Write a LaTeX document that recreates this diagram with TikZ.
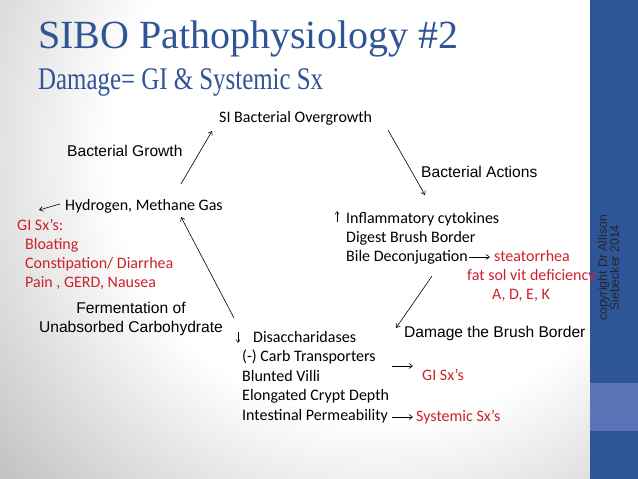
\documentclass[tikz,border=0pt]{standalone}
\usepackage{fontspec}
\setmainfont{Carlito}
\newfontfamily\arialf{Liberation Sans}
\newfontfamily\titlef{Liberation Serif}
\usetikzlibrary{arrows.meta}
\definecolor{titleblue}{HTML}{2F5597}
\definecolor{sidebar}{HTML}{2E5597}
\definecolor{bandblue}{HTML}{5B73B7}
\definecolor{sxred}{HTML}{CC2229}
\pgfdeclareradialshading{bgshade}{\pgfpoint{0bp}{0bp}}{color(0bp)=(white); color(12bp)=(white); color(25bp)=(black!30); color(50bp)=(black!30)}
\begin{document}
\begin{tikzpicture}[x=1pt,y=-1pt,
  cal/.style={inner sep=0pt, anchor=base west, font=\fontsize{16}{19}\selectfont},
  redtxt/.style={cal, text=sxred},
  ari/.style={inner sep=0pt, anchor=base west, font=\arialf\fontsize{15.6}{18}\selectfont},
  conn/.style={draw, line width=0.6pt, -{Straight Barb[length=3.5pt,width=5pt]}},
  smallarr/.style={draw, line width=0.5pt, -{Straight Barb[length=3pt,width=4pt]}}]
\useasboundingbox (0,0) rectangle (638,479);
% background
\begin{scope}
\clip (0,0) rectangle (590,479);
\fill[white] (0,0) rectangle (590,479);
\shade[shading=bgshade] (380,150) circle (560);
\end{scope}
\fill[sidebar] (590,0) rectangle (638,479);
\fill[bandblue] (590,383) rectangle (638,431);
% title
\node[inner sep=0pt, anchor=base west, text=titleblue, font=\titlef\fontsize{40}{44}\selectfont] (title) at (38,48) {SIBO Pathophysiology \#2};
\node[inner sep=0pt, anchor=base west, text=titleblue, xscale=0.79, font=\titlef\fontsize{31.5}{34}\selectfont] (subtitle) at (38,89) {Damage= GI \& Systemic Sx};
% top
\node[cal] (si) at (219,122) {SI Bacterial Overgrowth};
\node[ari] (bg) at (67,156) {Bacterial Growth};
\node[ari] (ba) at (421,177) {Bacterial Actions};
% left
\node[cal] (hyd) at (65,210) {Hydrogen, Methane Gas};
\node[redtxt] (gisx) at (17,230) {GI Sx’s:};
\node[redtxt] (bloat) at (25,249) {Bloating};
\node[redtxt] (const) at (25,268) {Constipation/ Diarrhea};
\node[redtxt] (pain) at (25,287) {Pain , GERD, Nausea};
\node[ari, anchor=base] (ferm1) at (131,313) {Fermentation of};
\node[ari, anchor=base] (ferm2) at (131,332) {Unabsorbed Carbohydrate};
% right
\node[cal] (infl) at (346,223) {Inflammatory cytokines};
\node[cal] (dig) at (346,242) {Digest Brush Border};
\node[cal] (bile) at (346,261) {Bile Deconjugation};
\node[redtxt] (steat) at (494,261) {steatorrhea};
\node[redtxt] (fat) at (467,280) {fat sol vit deficiency};
\node[redtxt] (adek) at (492,299) {A, D, E, K};
\node[ari] (dmg) at (404,337) {Damage the Brush Border};
% bottom
\node[cal] (disa) at (253,342) {Disaccharidases};
\node[cal] (carb) at (242,361.5) {(-) Carb Transporters};
\node[cal] (blunt) at (242,381) {Blunted Villi};
\node[cal] (elong) at (242,400.5) {Elongated Crypt Depth};
\node[cal] (perm) at (242,420) {Intestinal Permeability};
\node[redtxt] (gisx2) at (422,380) {GI Sx’s};
\node[redtxt] (syst) at (416,421) {Systemic Sx’s};
% copyright
\node[inner sep=0pt, rotate=90, align=center, text=black!85, font=\arialf\fontsize{12.3}{12}\selectfont] (copy) at (608.5,268) {copyright Dr Allison\\Siebecker 2014};
% connector end points
\coordinate (c1a) at (181,184); \coordinate (c1b) at (212,131);
\coordinate (c2a) at (388,130); \coordinate (c2b) at (425,195);
\coordinate (c3a) at (432,276); \coordinate (c3b) at (396,328);
\coordinate (c4a) at (234,318); \coordinate (c4b) at (181,217);
\coordinate (c5a) at (60,204);  \coordinate (c5b) at (39,210);
\coordinate (c6a) at (469,257); \coordinate (c6b) at (490,257);
\coordinate (c7a) at (392,366); \coordinate (c7b) at (413,366);
\coordinate (c8a) at (392,417); \coordinate (c8b) at (413,417);
\coordinate (u1a) at (337,222); \coordinate (u1b) at (337,211);
\coordinate (d1a) at (238,332); \coordinate (d1b) at (238,343);
% connectors
\draw[conn] (c1a) -- (c1b);
\draw[conn] (c2a) -- (c2b);
\draw[conn] (c3a) -- (c3b);
\draw[conn] (c4a) -- (c4b);
\draw[conn] (c5a) -- (c5b);
\draw[conn] (c6a) -- (c6b);
\draw[conn] (c7a) -- (c7b);
\draw[conn] (c8a) -- (c8b);
\draw[smallarr] (u1a) -- (u1b);
\draw[smallarr] (d1a) -- (d1b);
\end{tikzpicture}
\end{document}
